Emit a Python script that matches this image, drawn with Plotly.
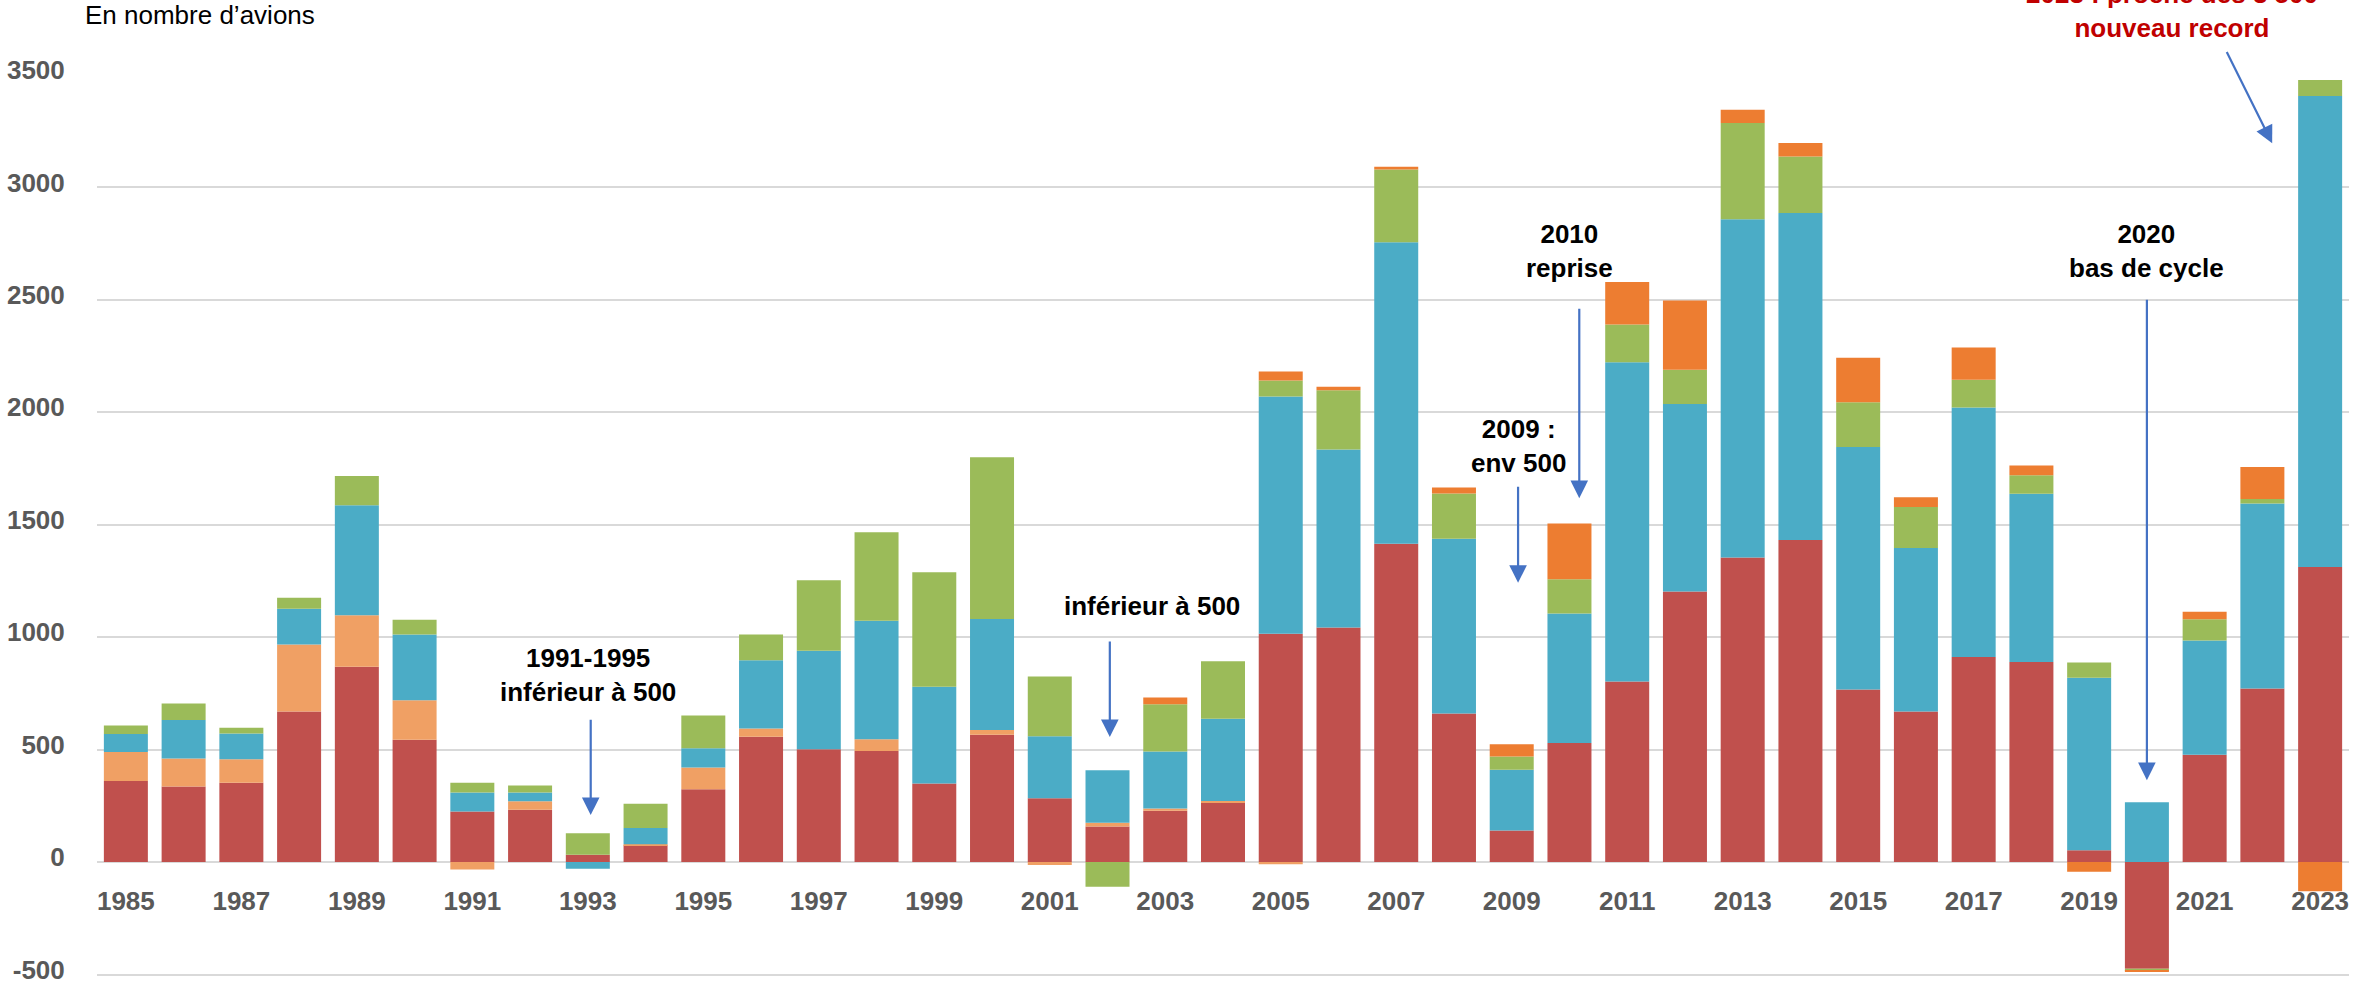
import plotly.graph_objects as go

years = list(range(1985, 2024))
tick_years = list(range(1985, 2024, 2))

red = [361, 336, 353, 669, 868, 544, 225, 233, 33, 75,
       324, 557, 502, 494, 349, 566, 284, 158, 228, 265,
       1015, 1043, 1416, 661, 140, 529, 803, 1203, 1354, 1432,
       767, 669, 912, 890, 52, -474, 477, 772, 1312]
salmon = [128, 125, 104, 299, 230, 176, -33, 37, 0, 4,
          97, 37, 0, 52, 0, 21, -13, 17, 10, 6,
          -10, 0, 0, 0, 0, 0, 0, 0, 0, 0,
          0, 0, 0, 0, 0, 0, 0, 0, 0]
blue = [80, 171, 115, 158, 489, 292, 84, 39, -30, 72,
        85, 303, 438, 527, 431, 494, 275, 233, 254, 366,
        1055, 792, 1340, 777, 271, 576, 1420, 834, 1504, 1454,
        1079, 728, 1109, 748, 768, 266, 508, 822, 2095]
green = [38, 73, 25, 49, 130, 66, 44, 32, 95, 108,
         146, 115, 313, 394, 509, 719, 266, -110, 210, 256,
         71, 263, 324, 201, 58, 153, 168, 152, 428, 252,
         199, 182, 124, 82, 67, -10, 95, 21, 71]
orange = [0, 0, 0, 0, 0, 0, 0, 0, 0, 0,
          0, 0, 0, 0, 0, 0, 0, 0, 30, 0,
          41, 16, 12, 27, 55, 248, 189, 308, 59, 60,
          198, 43, 143, 43, -43, -4, 33, 142, -130]

series = [
    ("s1", red, "#C0504D"),
    ("s2", salmon, "#F0A064"),
    ("s3", blue, "#4BACC6"),
    ("s4", green, "#9BBB59"),
    ("s5", orange, "#ED7D31"),
]

FONT = "Liberation Sans"
ARROW = "#4472C4"
W, H = 2374, 987
ML, MR, MT, MB = 97, 25, 75, 8
PW, PH = W - ML - MR, H - MT - MB
Y0, Y1 = -520, 3500

def px_x(px):
    return (px - ML) / PW

def px_y(py):
    return (H - MB - py) / PH

fig = go.Figure()
for name, vals, col in series:
    fig.add_trace(go.Bar(x=years, y=vals, name=name, marker=dict(color=col, line=dict(width=0))))

fig.update_layout(
    width=W, height=H,
    margin=dict(l=ML, r=MR, t=MT, b=MB, autoexpand=False),
    barmode="relative", bargap=0.238,
    plot_bgcolor="white", paper_bgcolor="white",
    showlegend=False,
    font=dict(family=FONT, size=26, color="#595959"),
)
fig.update_yaxes(
    range=[Y0, Y1], tickvals=[-500, 0, 500, 1000, 1500, 2000, 2500, 3000, 3500],
    ticktext=["-500", "0", "500", "1000", "1500", "2000", "2500", "3000", "3500"],
    ticklabeloverflow="allow", automargin=False, ticklabelshift=-5,
    showgrid=True, gridcolor="#D9D9D9", gridwidth=1.6,
    zeroline=True, zerolinecolor="#D9D9D9", zerolinewidth=1.6,
    ticks="outside", ticklen=26, tickcolor="rgba(0,0,0,0)",
    tickfont=dict(family=FONT, size=26, color="#595959", weight="bold"),
    showline=False,
)
fig.update_xaxes(
    range=[1984.5, 2023.5],
    tickvals=tick_years, ticktext=[str(y) for y in tick_years],
    anchor="free", position=(0 - Y0) / (Y1 - Y0), automargin=False,
    showgrid=False, zeroline=False, showline=False,
    ticks="outside", ticklen=16, tickcolor="rgba(0,0,0,0)",
    tickfont=dict(family=FONT, size=26, color="#595959", weight="bold"),
)

def txt(x, y, text, color="black", bold=True, size=26):
    fig.add_annotation(x=x, y=y, xref="x", yref="y", text=text, showarrow=False,
                       font=dict(family=FONT, size=size, color=color, weight="bold" if bold else "normal"),
                       xanchor="center", yanchor="middle", align="center")

def arrow(x0, y0, x1, y1):
    fig.add_annotation(x=x1, y=y1, ax=x0, ay=y0, xref="x", yref="y", axref="x", ayref="y",
                       text="", showarrow=True, arrowhead=2, arrowsize=1.6, arrowwidth=2.2,
                       arrowcolor=ARROW, standoff=0)

fig.add_annotation(x=px_x(83), y=px_y(15), xref="paper", yref="paper",
                   text="En nombre d\u2019avions", showarrow=False,
                   font=dict(family=FONT, size=26, color="black"), xanchor="left", yanchor="middle")

txt(1993.0, 833, "1991-1995<br>inférieur à 500")
arrow(1993.05, 640, 1993.05, 209)

txt(2002.77, 1138, "inférieur à 500")
arrow(2002.04, 987, 2002.04, 556)

txt(2009.11, 1849, "2009 :<br>env 500")
arrow(2009.11, 1676, 2009.11, 1242)

txt(2010.0, 2718, "2010<br>reprise")
arrow(2010.17, 2467, 2010.17, 1618)

txt(2013.42, 3591, "2013-2014 : records")

txt(2020.0, 2718, "2020<br>bas de cycle")
arrow(2020.0, 2507, 2020.0, 364)

fig.add_annotation(x=px_x(2172), y=px_y(11), xref="paper", yref="paper",
                   text="2023 : proche des 3 500<br>nouveau record", showarrow=False,
                   font=dict(family=FONT, size=26, color="#C00000", weight="bold"),
                   xanchor="center", yanchor="middle", align="center")
arrow(2021.37, 3609, 2022.17, 3196)

fig.write_html("out.html", config={"displayModeBar": False},
               post_script="document.body.style.margin='0';document.body.style.overflow='hidden';")
